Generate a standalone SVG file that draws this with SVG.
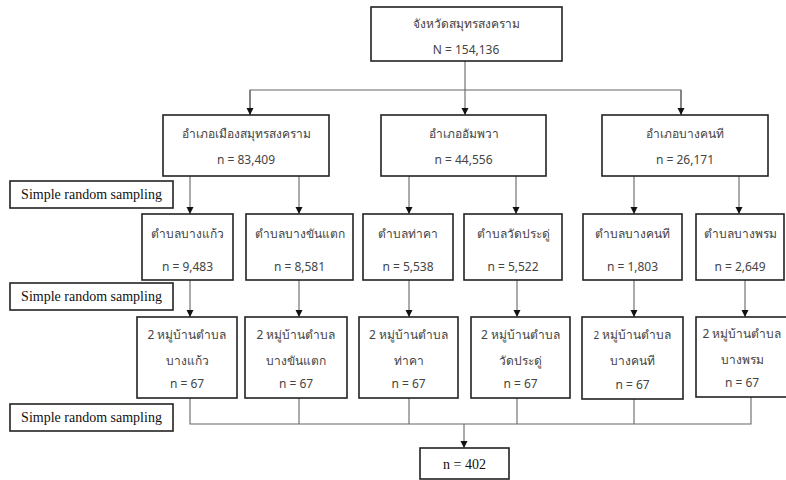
<svg xmlns="http://www.w3.org/2000/svg" width="786" height="480" viewBox="0 0 786 480">
<style>
.box{fill:#fff;stroke:#222;stroke-width:1.6}
.th{font-family:"Noto Sans","DejaVu Sans",sans-serif;font-size:12px;fill:#444;text-anchor:middle}
.tm{font-family:"Liberation Serif",serif;font-size:14px;fill:#111;text-anchor:middle}
.ln{fill:none;stroke:#666;stroke-width:1.1}
.arr{marker-end:url(#ah)}
</style>
<defs>
<marker id="ah" markerUnits="userSpaceOnUse" markerWidth="8" markerHeight="8" refX="7" refY="3.5" orient="auto">
<path d="M0,0 L7,3.5 L0,7 z" fill="#111"/>
</marker>
</defs>
<rect width="786" height="480" fill="#fff"/>
<g id="connectors">
<line class="ln arr" x1="465" y1="61" x2="465" y2="115"/>
<polyline class="ln" points="250,115 250,90 681,90 681,115"/>
<line class="ln arr" x1="250" y1="90" x2="250" y2="115"/>
<line class="ln arr" x1="681" y1="90" x2="681" y2="115"/>
<line class="ln arr" x1="190" y1="176" x2="190" y2="214"/>
<line class="ln arr" x1="299" y1="176" x2="299" y2="214"/>
<line class="ln arr" x1="409" y1="176" x2="409" y2="214"/>
<line class="ln arr" x1="516" y1="176" x2="516" y2="214"/>
<line class="ln arr" x1="634" y1="176" x2="634" y2="214"/>
<line class="ln arr" x1="739" y1="176" x2="739" y2="214"/>
<line class="ln arr" x1="190" y1="280" x2="190" y2="317"/>
<line class="ln arr" x1="299" y1="280" x2="299" y2="317"/>
<line class="ln arr" x1="409" y1="280" x2="409" y2="317"/>
<line class="ln arr" x1="517" y1="280" x2="517" y2="317"/>
<line class="ln arr" x1="634" y1="280" x2="634" y2="317"/>
<line class="ln arr" x1="745" y1="280" x2="745" y2="317"/>
<polyline class="ln" points="190,398 190,424 751,424 751,397"/>
<line class="ln" x1="299" y1="398" x2="299" y2="424"/>
<line class="ln" x1="409" y1="398" x2="409" y2="424"/>
<line class="ln" x1="517" y1="398" x2="517" y2="424"/>
<line class="ln" x1="634" y1="399" x2="634" y2="424"/>
<line class="ln arr" x1="464" y1="424" x2="464" y2="448"/>
</g>
<g id="province">
<rect class="box" x="371" y="7" width="191" height="54"/>
<text class="th" x="466" y="28">จังหวัดสมุทรสงคราม</text>
<text class="th" x="466" y="54">N = 154,136</text>
</g>
<g id="d1">
<rect class="box" x="163" y="115" width="166" height="61"/>
<text class="th" x="246" y="138">อำเภอเมืองสมุทรสงคราม</text>
<text class="th" x="246" y="164">n = 83,409</text>
</g>
<g id="d2">
<rect class="box" x="381" y="115" width="165" height="61"/>
<text class="th" x="463.5" y="138">อำเภออัมพวา</text>
<text class="th" x="463.5" y="164">n = 44,556</text>
</g>
<g id="d3">
<rect class="box" x="602" y="115" width="166" height="61"/>
<text class="th" x="685" y="138">อำเภอบางคนที</text>
<text class="th" x="685" y="164">n = 26,171</text>
</g>
<g id="s1">
<rect class="box" x="10" y="181" width="163" height="27"/>
<text class="tm" x="91.5" y="199">Simple random sampling</text>
</g>
<g id="t1">
<rect class="box" x="142" y="214" width="91" height="66"/>
<text class="th" x="187.5" y="238">ตำบลบางแก้ว</text>
<text class="th" x="187.5" y="271">n = 9,483</text>
</g>
<g id="t2">
<rect class="box" x="246" y="214" width="107" height="66"/>
<text class="th" x="299.5" y="238">ตำบลบางขันแตก</text>
<text class="th" x="299.5" y="271">n = 8,581</text>
</g>
<g id="t3">
<rect class="box" x="363" y="214" width="90" height="66"/>
<text class="th" x="408" y="238">ตำบลท่าคา</text>
<text class="th" x="408" y="271">n = 5,538</text>
</g>
<g id="t4">
<rect class="box" x="464" y="214" width="98" height="66"/>
<text class="th" x="513" y="238">ตำบลวัดประดู่</text>
<text class="th" x="513" y="271">n = 5,522</text>
</g>
<g id="t5">
<rect class="box" x="583" y="214" width="99" height="66"/>
<text class="th" x="632.5" y="238">ตำบลบางคนที</text>
<text class="th" x="632.5" y="271">n = 1,803</text>
</g>
<g id="t6">
<rect class="box" x="696" y="214" width="88" height="66"/>
<text class="th" x="740" y="238">ตำบลบางพรม</text>
<text class="th" x="740" y="271">n = 2,649</text>
</g>
<g id="s2">
<rect class="box" x="10" y="283" width="163" height="27"/>
<text class="tm" x="91.5" y="301">Simple random sampling</text>
</g>
<g id="v1">
<rect class="box" x="137" y="317" width="100" height="81"/>
<text class="th" x="187" y="339">2 หมู่บ้านตำบล</text>
<text class="th" x="187" y="365">บางแก้ว</text>
<text class="th" x="187" y="388">n = 67</text>
</g>
<g id="v2">
<rect class="box" x="245" y="317" width="102" height="81"/>
<text class="th" x="296" y="339">2 หมู่บ้านตำบล</text>
<text class="th" x="296" y="365">บางขันแตก</text>
<text class="th" x="296" y="388">n = 67</text>
</g>
<g id="v3">
<rect class="box" x="359" y="317" width="99" height="81"/>
<text class="th" x="408.5" y="339">2 หมู่บ้านตำบล</text>
<text class="th" x="408.5" y="365">ท่าคา</text>
<text class="th" x="408.5" y="388">n = 67</text>
</g>
<g id="v4">
<rect class="box" x="471" y="317" width="99" height="81"/>
<text class="th" x="520.5" y="339">2 หมู่บ้านตำบล</text>
<text class="th" x="520.5" y="365">วัดประดู่</text>
<text class="th" x="520.5" y="388">n = 67</text>
</g>
<g id="v5">
<rect class="box" x="582" y="317" width="101" height="82"/>
<text class="th" x="632.5" y="339"><tspan font-size="10">2</tspan> หมู่บ้านตำบล</text>
<text class="th" x="632.5" y="365">บางคนที</text>
<text class="th" x="632.5" y="389">n = 67</text>
</g>
<g id="v6">
<rect class="box" x="696" y="317" width="100" height="80"/>
<text class="th" x="742" y="338">2 หมู่บ้านตำบล</text>
<text class="th" x="742" y="364">บางพรม</text>
<text class="th" x="742" y="387">n = 67</text>
</g>
<g id="s3">
<rect class="box" x="10" y="404" width="163" height="27"/>
<text class="tm" x="91.5" y="422">Simple random sampling</text>
</g>
<g id="total">
<rect class="box" x="420" y="448" width="89" height="31"/>
<text class="tm" x="464.5" y="469">n = 402</text>
</g>
</svg>
